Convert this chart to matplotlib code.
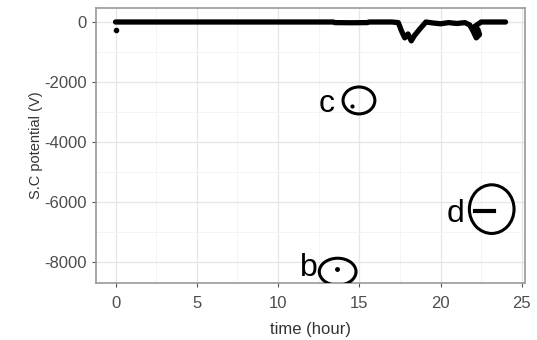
import matplotlib
matplotlib.use("Agg")
import matplotlib.pyplot as plt
from matplotlib.patches import Ellipse

plt.rcParams['font.family'] = ['Liberation Sans', 'DejaVu Sans']
plt.rcParams['axes.unicode_minus'] = False

# main band of S.C potential readings (hour, volts)
time = [0, 2, 4, 6, 8, 10, 12, 13.4, 13.5, 14.5, 15.5, 15.6, 17.0, 17.4,
        17.6, 17.8, 18.0, 18.2, 18.4, 18.7, 19.1, 19.5, 20.0, 20.5, 21.0,
        21.5, 21.8, 22.0, 22.2, 22.4, 22.3, 22.1, 22.5, 23.0, 23.5, 24.0]
potential = [0, 0, 0, 0, 0, 0, 0, 0, -20, -25, -20, 0, 0, -20,
             -300, -530, -400, -630, -450, -250, 0, -30, -60, -20, -50,
             -20, -100, -300, -530, -420, -250, -150, 0, 0, 0, 0]

# isolated readings
start_time = [0]
start_val = [-260]
c_time = [14.55]
c_val = [-2790]
b_time = [13.6]
b_val = [-8260]
d_time = [22.1, 22.4, 22.7, 23.0, 23.3]
d_val = [-6300, -6300, -6300, -6300, -6300]

# hand drawn circles: label, label pos, ellipse centre, ellipse size
marks = ["c", "b", "d"]
label_x = [13.0, 11.9, 20.9]
label_y = [-3020, -8490, -6670]
ell_x = [14.98, 13.67, 23.15]
ell_y = [-2620, -8340, -6250]
ell_w = [1.96, 2.26, 2.75]
ell_h = [900, 900, 1625]

fig = plt.figure(figsize=(5.37, 3.40), dpi=100)
ax = fig.add_axes([0.1788, 0.1676, 0.7989, 0.8089])

ax.plot(time, potential, color='black', lw=3.8, solid_capstyle='round',
        solid_joinstyle='round', zorder=3)
ax.plot(start_time, start_val, 'o', color='black', ms=3, zorder=3)
ax.plot(c_time, c_val, 'o', color='black', ms=2, zorder=3)
ax.plot(b_time, b_val, 'o', color='black', ms=2.5, zorder=3)
ax.plot(d_time, d_val, color='black', lw=3, zorder=3)

for i in range(len(marks)):
    ax.add_patch(Ellipse((ell_x[i], ell_y[i]), ell_w[i], ell_h[i],
                         fill=False, ec='black', lw=2.2, zorder=4))
    ax.text(label_x[i], label_y[i], marks[i], fontsize=23, ha='center',
            va='baseline', color='black', zorder=4)

ax.set_xlim(-1.2, 25.2)
ax.set_ylim(-8718, 468)
ax.set_xticks([0, 5, 10, 15, 20, 25])
ax.set_yticks([0, -2000, -4000, -6000, -8000])
ax.set_xticks([2.5, 7.5, 12.5, 17.5, 22.5], minor=True)
ax.set_yticks([-1000, -3000, -5000, -7000], minor=True)
ax.grid(True, which='major', color='#e6e6e6', lw=0.9)
ax.grid(True, which='minor', color='#f2f2f2', lw=0.6)
ax.set_axisbelow(True)
ax.tick_params(which='minor', length=0)
ax.tick_params(which='major', length=3, color='#555555', labelsize=12,
               labelcolor='#4d4d4d')
ax.tick_params(axis='x', pad=6)
for s in ax.spines.values():
    s.set_color('#999999')
    s.set_linewidth(1.2)

ax.set_xlabel("time (hour)", fontsize=12, color='#333333', labelpad=8)
ax.set_ylabel("S.C potential (V)", fontsize=10.5, color='#333333', labelpad=1)

fig.savefig("out.png", dpi=100)
